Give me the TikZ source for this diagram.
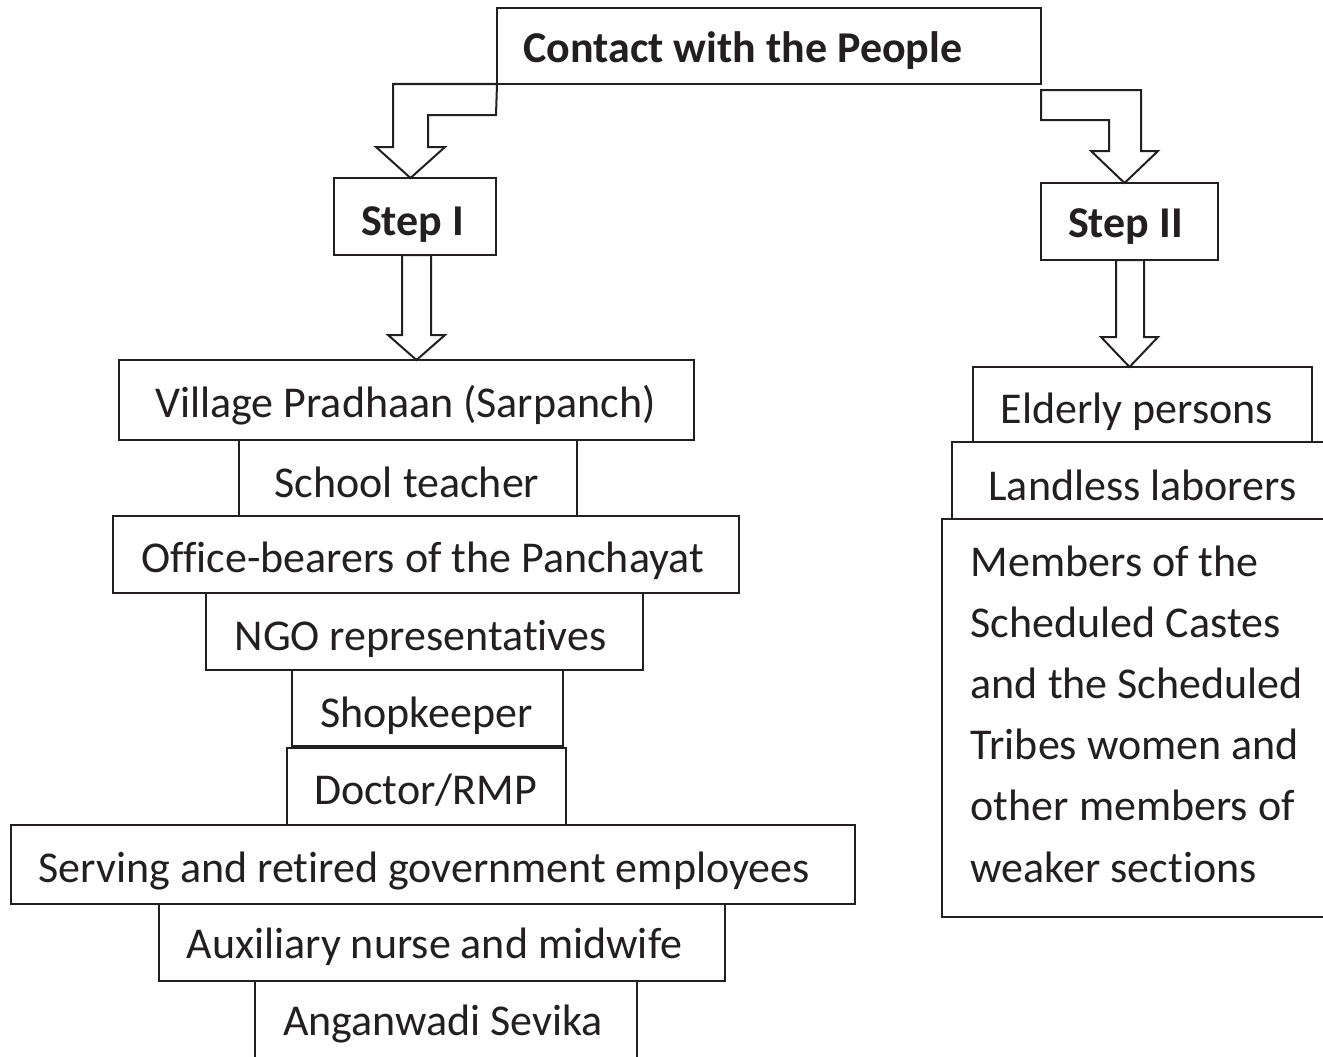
\documentclass[tikz,border=0pt]{standalone}
\usepackage{fontspec}
\setmainfont{Carlito}[Ligatures=NoCommon]
\usetikzlibrary{calc}
\definecolor{ink}{HTML}{231F20}

% box from its corner coordinates (pixel units, y downwards)
\newcommand\boxat[5]{%
  \node[boxshape, minimum width={(#4-#2)*0.75pt}, minimum height={(#5-#3)*0.75pt}]
    (#1) at ({(#2+#4)/2},{(#3+#5)/2}) {};}

\begin{document}
\begin{tikzpicture}[x=0.75pt, y=-0.75pt,
  boxshape/.style={draw=ink, line width=1.5pt, rectangle, inner sep=0pt, outer sep=0pt},
  blockarrow/.style={draw=ink, line width=1.5pt, line join=miter, fill=white},
  lbl/.style={anchor=base, inner sep=0pt, text=ink, font=\fontsize{33pt}{40pt}\selectfont},
  lblbold/.style={lbl, font=\fontsize{33pt}{40pt}\selectfont\bfseries},
  lblleft/.style={lbl, anchor=base west}]

\fill[white] (0,0) rectangle (1323,1056);
\clip (0,0) rectangle (1323,1056);

% ---- boxes ----
\boxat{contact}{497}{8}{1041}{84}
\boxat{stepI}{334}{178}{496}{255}
\boxat{stepII}{1041}{183}{1218}{260}

\boxat{village}{119}{360}{694}{440}
\boxat{school}{239}{440}{577}{516}
\boxat{office}{113}{516}{739}{593}
\boxat{ngo}{206}{593}{643}{670}
\boxat{shop}{292}{670}{563}{746}
\boxat{doctor}{287}{748}{566}{825}
\boxat{serving}{11}{825}{855}{904}
\boxat{aux}{159}{904}{725}{981}
\boxat{angan}{255}{981}{637}{1070}

\boxat{elderly}{973}{367}{1312}{442}
\boxat{landless}{952}{442}{1335}{519}
\boxat{members}{942}{519}{1335}{917}

% ---- labels ----
\node[lblbold] (contact-t) at (743,63) {Contact with the People};
\node[lblbold] (stepI-t) at (412.5,235) {Step I};
\node[lblbold] (stepII-t) at (1125.5,237) {Step II};

\node[lbl] (village-t) at (405.5,417) {Village Pradhaan (Sarpanch)};
\node[lbl] (school-t) at (407,497) {School teacher};
\node[lbl] (office-t) at (422.5,572) {Office-bearers of the Panchayat};
\node[lbl] (ngo-t) at (420.5,650) {NGO representatives};
\node[lbl] (shop-t) at (426.5,727.5) {Shopkeeper};
\node[lbl] (doctor-t) at (425.5,804) {Doctor/RMP};
\node[lbl] (serving-t) at (424,882) {Serving and retired government employees};
\node[lbl] (aux-t) at (434.5,958) {Auxiliary nurse and midwife};
\node[lbl] (angan-t) at (443,1035) {Anganwadi Sevika};

\node[lbl] (elderly-t) at (1137,423) {Elderly persons};
\node[lbl] (landless-t) at (1142.5,500) {Landless laborers};

\foreach \t [count=\i] in {Members of the, Scheduled Castes, and the Scheduled,
    Tribes women and, other members of, weaker sections}
  \node[lblleft] (members-t\i) at (970.5,{576+61.2*(\i-1)}) {\t};

% ---- block arrows ----
% Contact -> Step I (bent)
\draw[blockarrow] (contact.south west) -- (393,84) -- (393,147) -- (376,147)
  -- (410.5,0 |- stepI.north) -- (445,147) -- (428,147) -- (428,115)
  -- (496,115) -- cycle;
% Contact -> Step II (bent)
\draw[blockarrow] ($(contact.south east)+(0,6)$) -- (1141,90) -- (1141,151) -- (1158,151)
  -- (1124.5,0 |- stepII.north) -- (1091,151) -- (1109,151) -- (1109,120)
  -- (1041,120) -- cycle;
% Step I -> Village Pradhaan
\draw[blockarrow] (402,0 |- stepI.south) -- (402,335) -- (388,335)
  -- (416.5,0 |- village.north) -- (445,335) -- (431,335) -- (431,0 |- stepI.south) -- cycle;
% Step II -> Elderly persons
\draw[blockarrow] (1116,0 |- stepII.south) -- (1116,337) -- (1101,337)
  -- (1129.5,0 |- elderly.north) -- (1158,337) -- (1144,337) -- (1144,0 |- stepII.south) -- cycle;

\end{tikzpicture}
\end{document}
